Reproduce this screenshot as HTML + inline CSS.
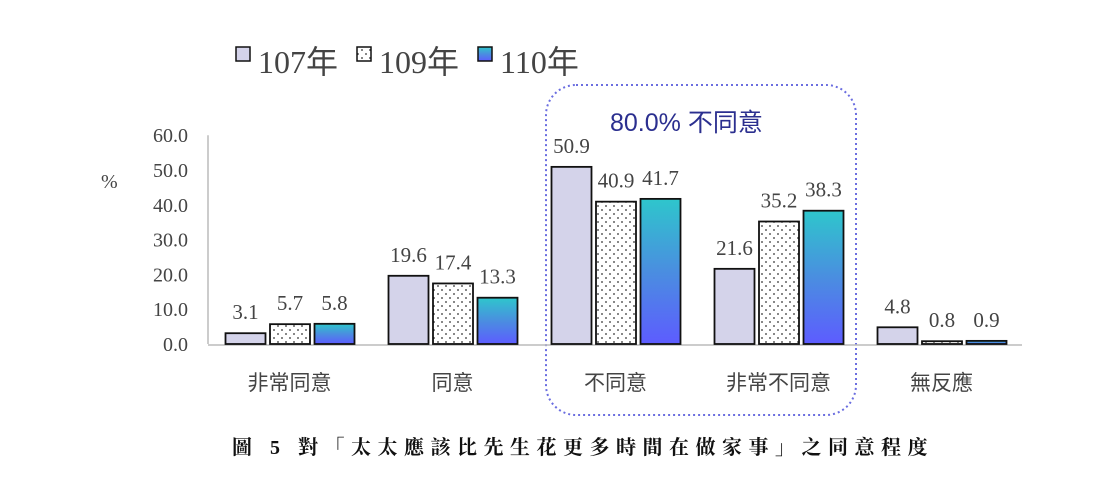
<!DOCTYPE html>
<html><head><meta charset="utf-8">
<style>
body{margin:0;background:#fff;}
svg{display:block;font-family:"Liberation Serif","Noto Serif CJK SC",serif;}
.cjk{font-family:"Liberation Sans","Noto Sans CJK TC",sans-serif;}
</style></head>
<body>
<svg id="chart" width="1098" height="487" viewBox="0 0 1098 487" xmlns="http://www.w3.org/2000/svg">
<defs>
<linearGradient id="grad110" x1="0" y1="0" x2="0" y2="1">
<stop offset="0" stop-color="#2ec6cc"/><stop offset="0.5" stop-color="#4a8ee0"/><stop offset="1" stop-color="#5d5cff"/>
</linearGradient>
<pattern id="dots" width="8" height="8" patternUnits="userSpaceOnUse">
<rect width="8" height="8" fill="#fff"/><circle cx="2" cy="2" r="0.9" fill="#333"/><circle cx="6" cy="6" r="0.9" fill="#333"/>
</pattern>
</defs>
<g font-size="32" fill="#444">
<rect x="236" y="47" width="14" height="14" fill="#d4d3ea" stroke="#111" stroke-width="1.5"/>
<text x="258" y="73">107<tspan class="cjk">年</tspan></text>
<rect x="357" y="47" width="14" height="14" fill="url(#dots)" stroke="#111" stroke-width="1.5"/>
<text x="379" y="73">109<tspan class="cjk">年</tspan></text>
<rect x="478" y="47" width="14" height="14" fill="url(#grad110)" stroke="#111" stroke-width="1.5"/>
<text x="500" y="73">110<tspan class="cjk">年</tspan></text>
</g>
<rect x="546" y="85" width="310" height="330" rx="30" fill="none" stroke="#6b6ee0" stroke-width="2" stroke-dasharray="2,3"/>
<text class="cjk" x="610" y="131" font-size="25" fill="#2b2f8f">80.0%  不同意</text>
<text x="101" y="188" font-size="20" fill="#444">%</text>
<g id="yaxis"></g>
<g id="bars"></g>
<g id="xlabels"></g>
<text x="232" y="454" font-size="20" fill="#111" font-weight="bold" letter-spacing="6.5">圖 5 對「太太應該比先生花更多時間在做家事」之同意程度</text>
</svg>
<script>
const categories=["非常同意","同意","不同意","非常不同意","無反應"];
const series107=[3.1,19.6,50.9,21.6,4.8];
const series109=[5.7,17.4,40.9,35.2,0.8];
const series110=[5.8,13.3,41.7,38.3,0.9];
const yTicks=[0,10,20,30,40,50,60];
const NS="http://www.w3.org/2000/svg";
const y0=344,pxPer=3.48,xStart=208,groupW=163;
function yScale(v){return y0-v*pxPer;}
function xGroup(i){return xStart+groupW*(i+0.5);}
function mk(t,a,p){const e=document.createElementNS(NS,t);for(const k in a)e.setAttribute(k,a[k]);p.appendChild(e);return e;}
const ya=document.getElementById('yaxis');
const ax=mk('line',{x1:xStart,y1:yScale(60),x2:xStart,y2:y0,stroke:'#bbb','stroke-width':1.5},ya);


const bl=mk('line',{x1:xStart,y1:y0+1,x2:1022,y2:y0+1,stroke:'#bbb','stroke-width':1.5},ya);


yTicks.forEach(v=>{
 const t=mk('text',{x:188,y:yScale(v)+7,'text-anchor':'end','font-size':20,fill:'#444'},ya);
 t.textContent=v.toFixed(1);
 
 
});
const bg=document.getElementById('bars');
const fills=['#d4d3ea','url(#dots)','url(#grad110)'];
const all=[series107,series109,series110];
const names=['107','109','110'];
categories.forEach((c,i)=>{
 const cx=xGroup(i);
 all.forEach((s,j)=>{
  const x=cx-64+j*44.5, v=s[i];
  const r=mk('rect',{x:x,y:yScale(v),width:40,height:v*pxPer,fill:fills[j],stroke:'#111','stroke-width':1.8},bg);
  
  
  const t=mk('text',{x:x+20,y:yScale(v)-14,'text-anchor':'middle','font-size':21,fill:'#444'},bg);
  t.textContent=v.toFixed(1);
  
  
 });
 const l=mk('text',{x:cx,y:390,'text-anchor':'middle','font-size':21,fill:'#444','class':'cjk'},document.getElementById('xlabels'));
 l.textContent=c;
 
 
});
</script>
</body></html>
